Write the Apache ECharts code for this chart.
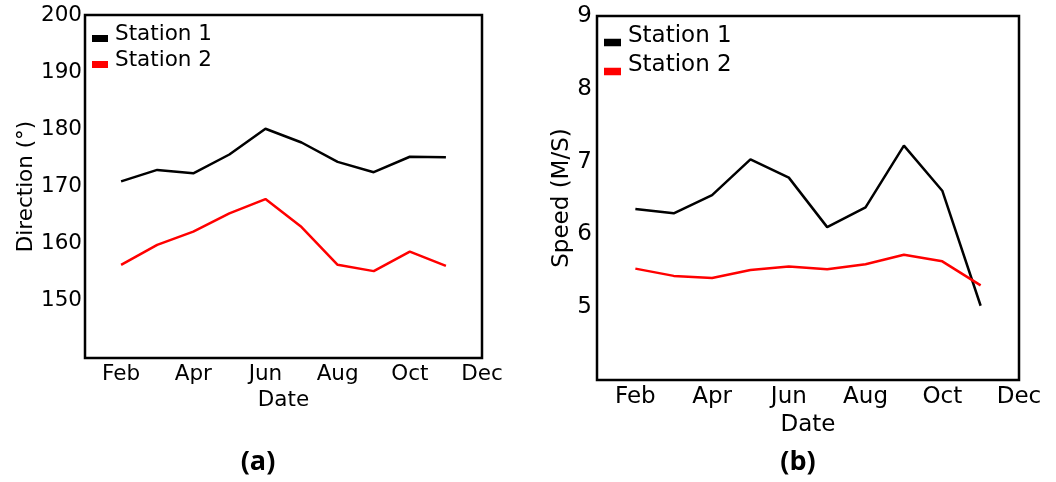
<!DOCTYPE html>
<html>
<head>
<meta charset="utf-8">
<script src="https://cdn.jsdelivr.net/npm/echarts@6/dist/echarts.min.js"></script>
<style>html,body{margin:0;padding:0;background:#fff;}#c{width:1056px;height:482px;}</style>
</head>
<body>
<div id="c"></div>
<script>
const months = ['Jan','Feb','Mar','Apr','May','Jun','Jul','Aug','Sep','Oct','Nov','Dec'];
// Panel (a): wind direction (degrees), Feb..Nov (Jan/Dec empty)
const dirStation1 = [null, 170.9, 172.9, 172.3, 175.6, 180.1, 177.7, 174.3, 172.5, 175.2, 175.1, null];
const dirStation2 = [null, 156.3, 159.8, 162.1, 165.3, 167.8, 162.9, 156.3, 155.2, 158.6, 156.1, null];
// Panel (b): wind speed (m/s)
const spdStation1 = [null, 6.35, 6.29, 6.54, 7.03, 6.78, 6.10, 6.37, 7.22, 6.60, 5.02, null];
const spdStation2 = [null, 5.53, 5.43, 5.40, 5.51, 5.56, 5.52, 5.59, 5.72, 5.63, 5.30, null];
const dirTicks = {min: 140, max: 200, interval: 10, hidden: 140};
const spdTicks = {min: 4, max: 9, interval: 1, hidden: 4};

const FONT = 'DejaVu Sans';
const chart = echarts.init(document.getElementById('c'), null, {renderer: 'canvas'});

function xAxis(gi, fs, margin, gap) {
  return {
    type: 'category', gridIndex: gi, data: months, boundaryGap: false,
    axisLine: {show: false}, axisTick: {show: false}, splitLine: {show: false},
    axisLabel: {interval: function (i) { return i % 2 === 1; }, color: '#000', fontFamily: FONT, fontSize: fs, margin: margin},
    name: 'Date', nameLocation: 'middle', nameGap: gap,
    nameTextStyle: {color: '#000', fontFamily: FONT, fontSize: fs}
  };
}
function yAxis(gi, t, name, fs, margin, gap) {
  return {
    type: 'value', gridIndex: gi, min: t.min, max: t.max, interval: t.interval,
    axisLine: {show: false}, axisTick: {show: false}, splitLine: {show: false},
    axisLabel: {color: '#000', fontFamily: FONT, fontSize: fs, margin: margin,
      formatter: function (v) { return v === t.hidden ? '' : String(v); }},
    name: name, nameLocation: 'middle', nameGap: gap,
    nameTextStyle: {color: '#000', fontFamily: FONT, fontSize: fs}
  };
}
function line(name, data, color, xi, yi) {
  return {type: 'line', name: name, data: data, xAxisIndex: xi, yAxisIndex: yi,
    showSymbol: false, symbol: 'none', connectNulls: false, silent: true,
    lineStyle: {color: color, width: 2.5}, itemStyle: {color: color}};
}
function caption(text, x) {
  return {type: 'text', x: x, y: 462, style: {text: text, fontFamily: 'Open Sans', fontSize: 27,
    fontWeight: 'bold', fill: '#000', align: 'center', verticalAlign: 'middle'}};
}

chart.setOption({
  animation: false,
  backgroundColor: '#fff',
  grid: [
    {left: 85, top: 15, width: 397, height: 343, show: true, borderColor: '#000', borderWidth: 2.5, backgroundColor: 'transparent'},
    {left: 597, top: 16, width: 422, height: 364, show: true, borderColor: '#000', borderWidth: 2.5, backgroundColor: 'transparent'}
  ],
  xAxis: [xAxis(0, 21.5, 5, 26), xAxis(1, 23, 6, 29)],
  yAxis: [yAxis(0, dirTicks, 'Direction (°)', 21.5, 3, 45), yAxis(1, spdTicks, 'Speed (M/S)', 23, 5, 22)],
  legend: [
    {left: 92, top: 22, orient: 'vertical', padding: 0, itemWidth: 16, itemHeight: 15, itemGap: 1,
     icon: 'path://M0,0L16,0L16,0ZM0,8L16,8L16,15L0,15Z', selectedMode: false, data: ['Station 1', 'Station 2'],
     itemStyle: {borderWidth: 0},
     textStyle: {color: '#000', fontFamily: FONT, fontSize: 21.5, lineHeight: 25, padding: [0, 0, 0, 2]}},
    {left: 604, top: 23, orient: 'vertical', padding: 0, itemWidth: 17, itemHeight: 19.5, itemGap: 2,
     icon: 'path://M0,0L17,0L17,0ZM0,12L17,12L17,19.5L0,19.5Z', selectedMode: false, data: ['Station 1', 'Station 2'],
     itemStyle: {borderWidth: 0},
     textStyle: {color: '#000', fontFamily: FONT, fontSize: 23, lineHeight: 27, padding: [0, 0, 0, 2]}}
  ],
  graphic: [caption('(a)', 258), caption('(b)', 798)],
  series: [
    line('Station 1', dirStation1, '#000000', 0, 0),
    line('Station 2', dirStation2, '#ff0000', 0, 0),
    line('Station 1', spdStation1, '#000000', 1, 1),
    line('Station 2', spdStation2, '#ff0000', 1, 1)
  ]
});
</script>
</body>
</html>
